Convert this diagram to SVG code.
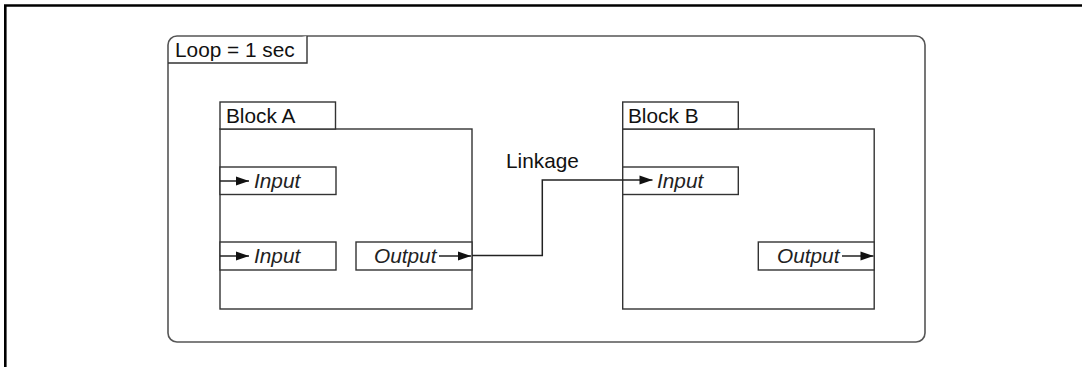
<svg xmlns="http://www.w3.org/2000/svg" width="1082" height="367" viewBox="0 0 1082 367">
<style>
.frame{fill:none;stroke:#000;stroke-width:2.6}
.loop{fill:#fff;stroke:#555;stroke-width:1.6}
.box{fill:#fff;stroke:#333;stroke-width:1.4}
.wire{fill:none;stroke:#222;stroke-width:1.5}
.t{font-family:"Liberation Sans",Arial,sans-serif;font-size:20.8px;fill:#111}
.i{font-family:"Liberation Sans",Arial,sans-serif;font-size:20.8px;font-style:italic;fill:#222}
</style>
<defs>
<marker id="ah" markerUnits="userSpaceOnUse" markerWidth="14" markerHeight="10" refX="13" refY="5" orient="auto" overflow="visible">
<path d="M0,0.5 L13,5 L0,9.5 Z" fill="#111"/>
</marker>
</defs>
<rect width="1082" height="367" fill="#fff"/>
<path class="frame" d="M5.3,367 V5.5 H1082"/>

<g id="loop">
<rect class="loop" x="168" y="36" width="757" height="306" rx="9"/>
<path class="box" d="M168,63 H307 V36"/>
<text class="t" x="175" y="57">Loop = 1 sec</text>
</g>

<g id="blockA">
<rect class="box" x="220" y="129" width="252" height="180"/>
<rect class="box" x="220" y="102" width="115.5" height="27"/>
<text class="t" x="226" y="123">Block A</text>
<g id="blockA-in1">
<rect class="box" x="220" y="167" width="116" height="27.5"/>
<line class="wire" x1="220" y1="181" x2="249" y2="181" marker-end="url(#ah)"/>
<text class="i" x="254" y="188">Input</text>
</g>
<g id="blockA-in2">
<rect class="box" x="220" y="242" width="116" height="28"/>
<line class="wire" x1="220" y1="256" x2="249" y2="256" marker-end="url(#ah)"/>
<text class="i" x="254" y="263">Input</text>
</g>
<g id="blockA-out">
<rect class="box" x="356" y="242" width="116" height="28"/>
<text class="i" x="374" y="263">Output</text>
<line class="wire" x1="439" y1="256" x2="471" y2="256" marker-end="url(#ah)"/>
</g>
</g>

<g id="blockB">
<rect class="box" x="622.7" y="129" width="251.5" height="180"/>
<rect class="box" x="622.7" y="102" width="115.6" height="27"/>
<text class="t" x="628" y="123">Block B</text>
<g id="blockB-in1">
<rect class="box" x="622.7" y="167" width="115.6" height="27.5"/>
<line class="wire" x1="622.7" y1="180" x2="652.5" y2="180" marker-end="url(#ah)"/>
<text class="i" x="657" y="188">Input</text>
</g>
<g id="blockB-out">
<rect class="box" x="758.3" y="242" width="115.9" height="28"/>
<text class="i" x="777" y="263">Output</text>
<line class="wire" x1="842" y1="256" x2="873.5" y2="256" marker-end="url(#ah)"/>
</g>
</g>

<g id="connectors">
<polyline class="wire" points="472,255.5 542.3,255.5 542.3,180 622.7,180"/>
<text class="t" x="506" y="168">Linkage</text>
</g>
</svg>
